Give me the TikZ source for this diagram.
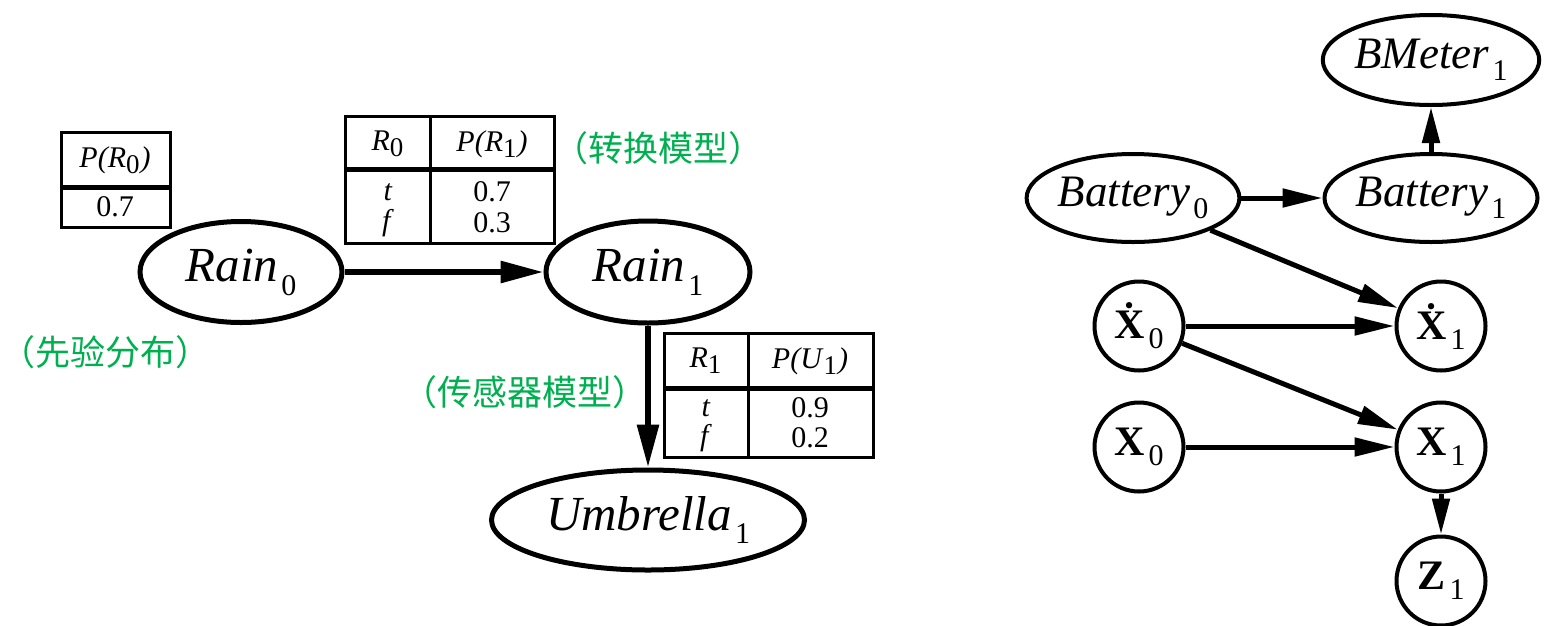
\documentclass[tikz,border=0pt]{standalone}
\usepackage{fontspec}
\setmainfont{Liberation Serif}
\newfontfamily\cjk{Noto Sans CJK SC}
\usetikzlibrary{shapes.geometric,arrows.meta}
\definecolor{cngreen}{RGB}{0,176,80}
\newcommand\fs[1]{\fontsize{#1pt}{#1pt}\selectfont}
% size, word, subsize, sub, drop
\newcommand\vlab[5]{{\fs{#1}\textit{#2}}\kern3pt\raisebox{-#5pt}{\fs{#3}#4}}
\newcommand\blab[5]{{\fs{#1}\textbf{#2}}\kern4pt\raisebox{-#5pt}{\fs{#3}#4}}
\newcommand\tsub[1]{\raisebox{-6pt}{\fs{27}#1}\kern1pt}
\begin{document}
\begin{tikzpicture}[x=1pt,y=-1pt,
  ell/.style={ellipse, draw, line width=5pt, inner sep=0pt},
  rell/.style={ellipse, draw, line width=4pt, inner sep=0pt},
  circ/.style={circle, draw, line width=4pt, minimum size=89pt, inner sep=0pt},
  arr/.style={line width=6pt, -{Triangle[length=43pt,width=21pt]}},
  arrs/.style={line width=5pt, -{Triangle[length=40pt,width=18pt]}},
  arrv/.style={line width=5pt, -{Triangle[length=36pt,width=17pt]}},
  tbl/.style={line width=3pt},
  hdr/.style={line width=5pt},
  cell/.style={inner sep=0pt, font=\fs{30}},
  note/.style={text=cngreen, font=\cjk\fs{35}, inner sep=0pt}]
\useasboundingbox (0,0) rectangle (1544,625);

% ---------------- left network ----------------
\node[ell, minimum width=202pt, minimum height=101pt] (r0) at (241,272) {\vlab{49}{Rain}{30}{0}{14}};
\node[ell, minimum width=204pt, minimum height=102pt] (r1) at (648,272) {\vlab{49}{Rain}{30}{1}{14}};
\node[ell, minimum width=313pt, minimum height=100pt] (u1) at (648,520) {\vlab{49}{Umbrella}{30}{1}{13}};

\draw[arr] (r0) -- (r1);
\draw[arr] (r1) -- (u1);

% table P(R0)
\draw[tbl] (61,132) rectangle (170,227);
\draw[hdr] (61,187) -- (170,187);
\node[cell] (t1h) at (115,160) {\textit{P(R}\tsub{0}\textit{)}};
\node[cell] (t1v) at (115,207) {0.7};

% table P(R1|R0)
\draw[tbl] (345,116) rectangle (554,243);
\draw[tbl] (430,116) -- (430,243);
\draw[hdr] (345,169) -- (554,169);
\node[cell] (t2a) at (388,144) {\textit{R}\tsub{0}};
\node[cell] (t2b) at (492,144) {\textit{P(R}\tsub{1}\textit{)}};
\node[cell] (t2c) at (388,192) {\textit{t}};
\node[cell] (t2d) at (388,223) {\textit{f}};
\node[cell] (t2e) at (492,192) {0.7};
\node[cell] (t2f) at (492,223) {0.3};

% table P(U1|R1)
\draw[tbl] (664,333) rectangle (873,457);
\draw[tbl] (748,333) -- (748,457);
\draw[hdr] (664,388) -- (873,388);
\node[cell] (t3a) at (706,361) {\textit{R}\tsub{1}};
\node[cell] (t3b) at (810,361) {\textit{P(U}\tsub{1}\textit{)}};
\node[cell] (t3c) at (706,408) {\textit{t}};
\node[cell] (t3d) at (706,438) {\textit{f}};
\node[cell] (t3e) at (810,408) {0.9};
\node[cell] (t3f) at (810,438) {0.2};

% notes
\node[note] (n1) at (106,352) {（先验分布）};
\node[note] (n2) at (658,148) {（转换模型）};
\node[note] (n3) at (525,392) {（传感器模型）};

% ---------------- right network ----------------
\node[rell, minimum width=205pt, minimum height=90pt] (bm) at (1431,60) {\vlab{45}{BMeter}{30}{1}{12}};
\node[rell, minimum width=211pt, minimum height=88pt] (b0) at (1133,198) {\vlab{45}{Battery}{30}{0}{12}};
\node[rell, minimum width=213pt, minimum height=88pt] (b1) at (1431,198) {\vlab{45}{Battery}{30}{1}{12}};

\node[circ] (xd0) at (1139,326) {\blab{42}{\.X}{30}{0}{10}};
\node[circ] (xd1) at (1441,326) {\blab{42}{\.X}{30}{1}{10}};
\node[circ] (x0) at (1139,447) {\blab{42}{X}{30}{0}{10}};
\node[circ] (x1) at (1441,447) {\blab{42}{X}{30}{1}{10}};
\node[circ] (z1) at (1441,581) {\blab{42}{Z}{30}{1}{10}};

\draw[arrs] (b0) -- (b1);
\draw[arrv] (b1) -- (bm);
\draw[arrs] (b0) -- (xd1);
\draw[arrs] (xd0) -- (xd1);
\draw[arrs] (xd0) -- (x1);
\draw[arrs] (x0) -- (x1);
\draw[arrv] (x1) -- (z1);
\end{tikzpicture}
\end{document}
